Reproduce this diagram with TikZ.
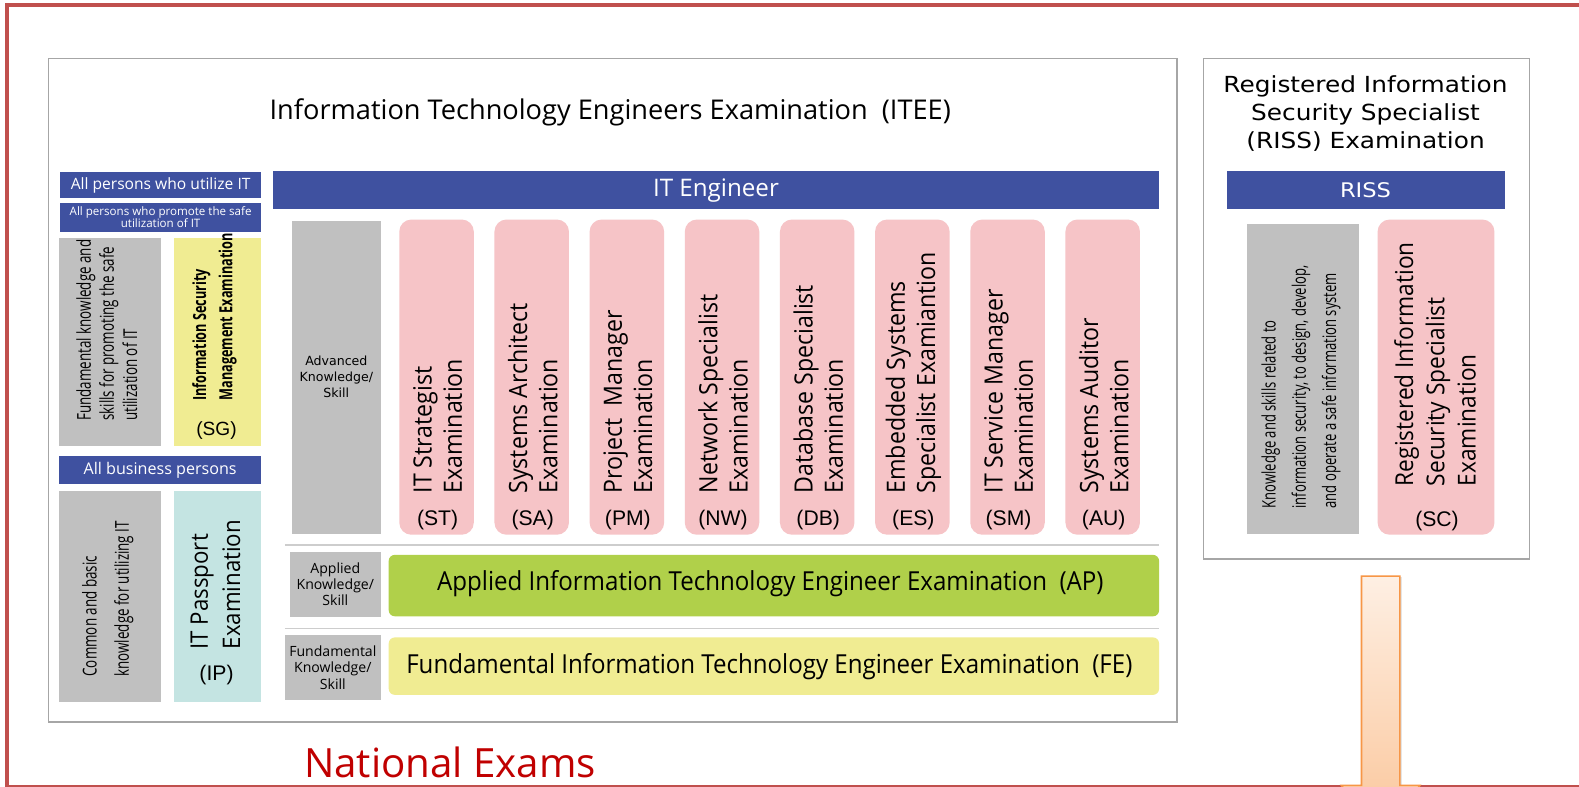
\documentclass[tikz,border=0pt]{standalone}
\usepackage{fontspec}
\setmainfont{Open Sans}
\newfontfamily\condfont[FakeStretch=0.7]{Open Sans}
\newfontfamily\midfont[FakeStretch=0.92]{Open Sans}
\newfontfamily\verdfont{DejaVu Sans}
\newfontfamily\widefont[FakeStretch=1.12]{DejaVu Sans}
\newfontfamily\arialfont{Liberation Sans}
\usetikzlibrary{positioning,calc,shadows}

\definecolor{barblue}{HTML}{3F51A0}
\definecolor{boxgrey}{HTML}{C0C0C0}
\definecolor{examred}{HTML}{F6C4C7}
\definecolor{apgreen}{HTML}{B0D04A}
\definecolor{feyellow}{HTML}{F0EC92}
\definecolor{ipcyan}{HTML}{C4E4E2}
\definecolor{framered}{HTML}{C0504D}
\definecolor{linegrey}{HTML}{A6A6A6}
\definecolor{barorange}{HTML}{F79646}
\definecolor{natred}{HTML}{C00000}

\begin{document}
\begin{tikzpicture}[x=1pt,y=-1pt,
greybox/.style={fill=boxgrey,inner sep=0pt},
bluebar/.style={fill=barblue,text=white,inner sep=0pt,align=center},
exambox/.style={fill=examred,rounded corners=12pt,inner sep=0pt,minimum width=74pt,minimum height=313pt},
vtext/.style={rotate=90,anchor=west,align=left,inner sep=0pt},
codetxt/.style={font=\arialfont\fontsize{21}{21}\selectfont,inner sep=0pt},
levtxt/.style={align=center,inner sep=0pt,font=\fontsize{14}{16}\selectfont}
]
\useasboundingbox (0,0) rectangle (1568,781);
\fill[white] (0,0) rectangle (1568,781);
\draw[framered,line width=4.5pt] (7,5) rectangle (1620,781.5);

% ITEE
\draw[linegrey,line width=1.5pt] (48,58) rectangle (1169,717);
\node[inner sep=0pt,font=\fontsize{27}{30}\selectfont] (itee) at (606,112) {Information Technology Engineers Examination\ \ (ITEE)};

% left column
\node[bluebar,minimum width=199pt,minimum height=26pt,font=\fontsize{15.5}{17}\selectfont] (allit) at (159.5,184) {All persons who utilize IT};
\node[bluebar,minimum width=199pt,minimum height=28pt,font=\fontsize{11.5}{12}\selectfont] (allsafe) at (159.5,216) {All persons who promote the safe\\utilization of IT};
\node[greybox,minimum width=101pt,minimum height=207pt] (fund) at (109.5,339.5) {};
\node[vtext,font=\condfont\fontsize{19}{23}\selectfont] (fund-txt) at (106,418) {Fundamental knowledge and\\skills for promoting the safe\\utilization of IT};
\node[fill=feyellow,inner sep=0pt,minimum width=87pt,minimum height=207pt,right=12pt of fund] (sg) {};
\node[vtext,font=\condfont\bfseries\fontsize{18}{26}\selectfont] (sg-txt) at (213,398) {Information Security\\Management Examination};
\node[codetxt,font=\arialfont\fontsize{19}{19}\selectfont] (sg-code) at (215,428) {(SG)};
\node[bluebar,minimum width=200pt,minimum height=28pt,font=\fontsize{16}{18}\selectfont] (allbus) at (159,467) {All business persons};
\node[greybox,minimum width=101pt,minimum height=209pt] (common) at (109.5,592.5) {};
\node[vtext,font=\condfont\fontsize{19}{32}\selectfont] (common-txt) at (107,672) {Common and basic\\knowledge for utilizing IT};
\node[fill=ipcyan,inner sep=0pt,minimum width=87pt,minimum height=209pt,right=12pt of common] (ip) {};
\node[vtext,font=\midfont\fontsize{24}{32}\selectfont] (ip-txt) at (214,645) {IT Passport\\Examination};
\node[codetxt] (ip-code) at (215,670) {(IP)};

% IT engineer
\node[bluebar,minimum width=880pt,minimum height=38pt,font=\fontsize{24}{26}\selectfont] (iteng) at (711,189) {IT Engineer};
\node[greybox,minimum width=88pt,minimum height=311pt] (adv) at (334,374.5) {};
\node[align=center,inner sep=0pt,font=\verdfont\fontsize{12.5}{16}\selectfont] (adv-txt) at (adv) {Advanced\\Knowledge/\\Skill};
\foreach \code/\lineA/\lineB [count=\i] in {ST/IT Strategist/Examination,SA/Systems Architect/Examination,PM/Project\ \ Manager/Examination,NW/Network Specialist/Examination,DB/Database Specialist/Examination,ES/Embedded Systems/Specialist Examiantion,SM/IT Service Manager/Examination,AU/Systems Auditor/Examination}
{
\node[exambox] (ex\i) at ({339+94.5*\i},374.5) {};
\node[vtext,font=\midfont\fontsize{25}{30}\selectfont] (ex\i-txt) at ($(ex\i.south)+(1,-41)$) {\lineA\\\lineB};
\node[codetxt] (ex\i-code) at ($(ex\i.south)+(1,-15)$) {(\code)};
}
\draw[boxgrey!80,line width=1.5pt] (283,541) -- (1151,541);
\draw[boxgrey!80,line width=1.5pt] (283,624) -- (1151,624);
\node[greybox,minimum width=90pt,minimum height=65pt] (appl) at (333,580.5) {};
\node[levtxt] (appl-txt) at (appl) {Applied\\Knowledge/\\Skill};
\node[fill=apgreen,rounded corners=6pt,inner sep=0pt,minimum width=765pt,minimum height=61pt] (ap) at (768.5,581.5) {};
\node[inner sep=0pt,font=\midfont\fontsize{26}{28}\selectfont] (ap-txt) at (765,580) {Applied Information Technology Engineer Examination\ \ (AP)};
\node[greybox,minimum width=95pt,minimum height=64pt] (fundl) at (330.5,663) {};
\node[levtxt] (fundl-txt) at (fundl) {Fundamental\\Knowledge/\\Skill};
\node[fill=feyellow,rounded corners=6pt,inner sep=0pt,minimum width=765pt,minimum height=57pt] (fe) at (768.5,661.5) {};
\node[inner sep=0pt,font=\midfont\fontsize{26}{28}\selectfont] (fe-txt) at (764,662) {Fundamental Information Technology Engineer Examination\ \ (FE)};

\node[inner sep=0pt,text=natred,font=\fontsize{40}{44}\selectfont] (natl) at (447,757) {National Exams};

% RISS
\draw[linegrey,line width=1.5pt] (1195,58) rectangle (1519,555);
\node[align=center,inner sep=0pt,font=\widefont\fontsize{22}{28}\selectfont] (riss-title) at (1356,113) {Registered Information\\Security Specialist\\(RISS) Examination};
\node[bluebar,minimum width=276pt,minimum height=38pt,font=\widefont\fontsize{20}{22}\selectfont] (riss) at (1356,189) {RISS};
\node[greybox,minimum width=112pt,minimum height=308pt] (rissk) at (1294,376) {};
\node[vtext,font=\condfont\fontsize{18.5}{30}\selectfont] (rissk-txt) at (1292,505) {Knowledge and skills related to\\information security, to design, develop,\\and operate a safe information system};
\node[exambox,minimum width=116pt] (sc) at (1426,374.5) {};
\node[vtext,font=\midfont\fontsize{24.5}{31}\selectfont] (sc-txt) at (1425,483) {Registered Information\\Security Specialist\\Examination};
\node[codetxt] (sc-code) at (1427,517) {(SC)};

\path[drop shadow={opacity=0.2,shadow xshift=2pt,shadow yshift=-1pt},top color=barorange!15,bottom color=barorange!55,draw=barorange,line width=1.5pt]
(1352,572) -- (1390,572) -- (1390,780) -- (1410,780) -- (1371,830) -- (1332,780) -- (1352,780) -- cycle;
\end{tikzpicture}
\end{document}
